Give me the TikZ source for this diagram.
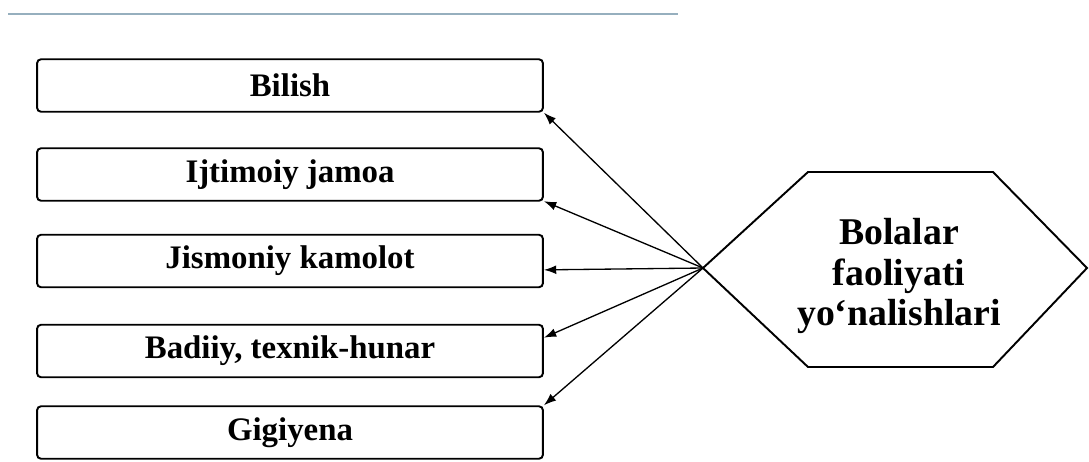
\documentclass[tikz,border=0pt]{standalone}
\usepackage{fontspec}
\setmainfont{Liberation Serif}
\usetikzlibrary{arrows.meta}
\definecolor{rulegray}{RGB}{150,175,190}

\begin{document}
\begin{tikzpicture}[x=0.02cm,y=-0.02cm,
    kind/.style={draw=black,line width=1.1pt,rounded corners=0.08cm,
        minimum width=10.12cm,minimum height=1.05cm,inner sep=0pt,
        font=\fontsize{18.7}{22}\selectfont\bfseries},
    link/.style={line width=0.75pt,-{Latex[length=7pt,width=5pt]}}]
            
                    \useasboundingbox (0,0) rectangle (1089,461);
                    \draw[rulegray,line width=1.2pt] (8,14)--(678,14);

                    % the five directions
                    \node[kind] (b1) at (290,85.5){Bilish};
                    \node[kind] (b2) at (290,174.5){Ijtimoiy jamoa};
                    \node[kind] (b3) at (290,261){Jismoniy kamolot};
                    \node[kind] (b4) at (290,351){Badiiy, texnik-hunar};
                    \node[kind] (b5) at (290,432.5){Gigiyena};

                    % hexagon
                    \draw[line width=1.1pt] (703,268)--(808,172)--(993,172)--(1087,268)--(993,367)--(808,367)--cycle;
                    \coordinate (tip) at (703,268);
                    \node[align=center,font=\fontsize{21.5}{23}\selectfont\bfseries] (hex) at (899,276){Bolalar\\faoliyati\\yo‘nalishlari};

                    \draw[link] (tip)--(b1.south east);
                    \draw[link] (tip)--(b2.-6);
                    \draw[link] (tip)--(b3.-2);
                    \draw[link] (tip)--(b4.3);
                    \draw[link] (tip)--(b5.north east);
            
                    \end{tikzpicture}
\end{document}
